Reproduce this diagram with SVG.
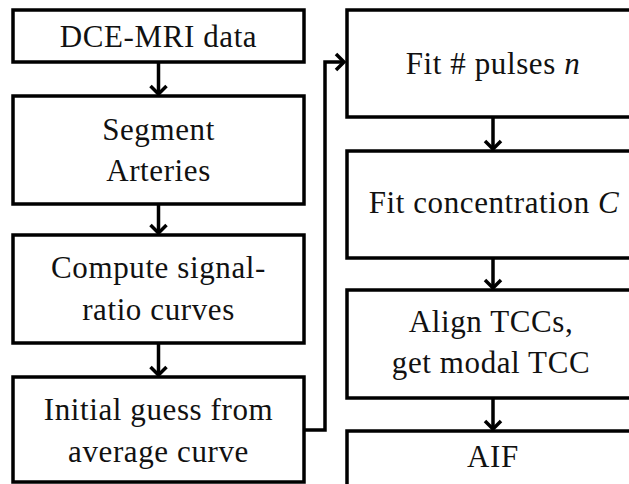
<svg xmlns="http://www.w3.org/2000/svg" width="629" height="484" viewBox="0 0 629 484">
<style>
.box{fill:#fff;stroke:#000;stroke-width:3.5}
.t{font-family:"Liberation Serif","Times New Roman",serif;font-size:31px;fill:#111;text-anchor:middle;letter-spacing:0.6px}
.i{font-style:italic}
.c{fill:none;stroke:#000;stroke-width:3.5;stroke-linejoin:miter}
</style>
<defs>
<marker id="ah" viewBox="0 0 20 20" refX="17" refY="10" markerWidth="20" markerHeight="20" markerUnits="userSpaceOnUse" orient="auto">
<path d="M9,2 L17,10 L9,18" fill="none" stroke="#000" stroke-width="3.5"/>
</marker>
</defs>
<rect width="629" height="484" fill="#fff"/>
<g id="n1"><rect class="box" x="13" y="10" width="291" height="52"/><text class="t" x="158.5" y="47">DCE-MRI data</text></g>
<g id="n2"><rect class="box" x="13" y="96" width="291" height="108"/><text class="t" x="158.5" y="140">Segment</text><text class="t" x="158.5" y="181">Arteries</text></g>
<g id="n3"><rect class="box" x="13" y="235" width="291" height="108"/><text class="t" x="158.5" y="278">Compute signal-</text><text class="t" x="158.5" y="320">ratio curves</text></g>
<g id="n4"><rect class="box" x="13" y="377" width="291" height="105"/><text class="t" x="158.5" y="420">Initial guess from</text><text class="t" x="158.5" y="462">average curve</text></g>
<g id="n5"><rect class="box" x="347" y="10" width="292" height="107"/><text class="t" x="493" y="74">Fit # pulses <tspan class="i">n</tspan></text></g>
<g id="n6"><rect class="box" x="347" y="151" width="292" height="107"/><text class="t" x="494" y="213">Fit concentration <tspan class="i">C</tspan></text></g>
<g id="n7"><rect class="box" x="347" y="290" width="292" height="108"/><text class="t" x="491" y="332">Align TCCs,</text><text class="t" x="491" y="373">get modal TCC</text></g>
<g id="n8"><rect class="box" x="347" y="431" width="292" height="60"/><text class="t" x="493" y="467">AIF</text></g>
<g id="connectors">
<line class="c" x1="158.5" y1="62" x2="158.5" y2="94" marker-end="url(#ah)"/>
<line class="c" x1="158.5" y1="204" x2="158.5" y2="233" marker-end="url(#ah)"/>
<line class="c" x1="158.5" y1="343" x2="158.5" y2="375" marker-end="url(#ah)"/>
<polyline class="c" points="304,430 325,430 325,62 344,62" marker-end="url(#ah)"/>
<line class="c" x1="493" y1="117" x2="493" y2="149" marker-end="url(#ah)"/>
<line class="c" x1="493" y1="258" x2="493" y2="288" marker-end="url(#ah)"/>
<line class="c" x1="493" y1="398" x2="493" y2="429" marker-end="url(#ah)"/>
</g>
</svg>
